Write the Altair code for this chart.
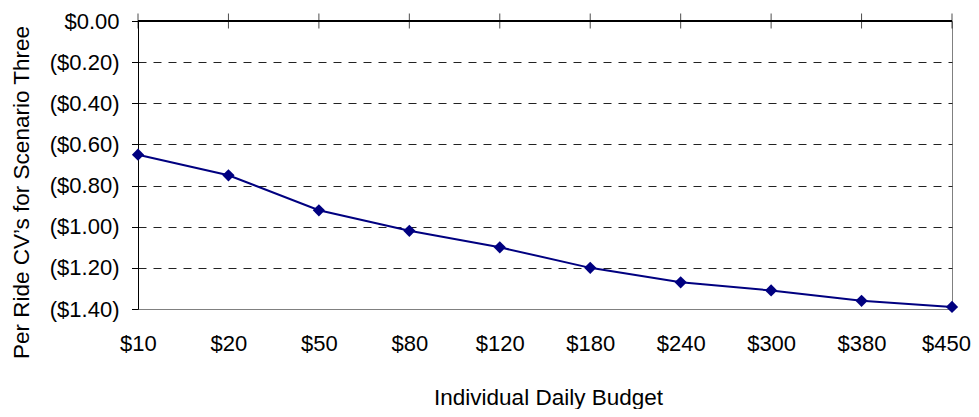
import altair as alt
import pandas as pd

budget = ["$10", "$20", "$50", "$80", "$120", "$180", "$240", "$300", "$380", "$450"]
cv = [-0.65, -0.75, -0.92, -1.02, -1.10, -1.20, -1.27, -1.31, -1.36, -1.39]
y_ticks = [0.0, -0.2, -0.4, -0.6, -0.8, -1.0, -1.2, -1.4]

df = pd.DataFrame({"budget": budget, "cv": cv})

FONT = "Liberation Sans"
NAVY = "#000080"

x_enc = alt.X(
    "budget:N",
    sort=budget,
    scale=alt.Scale(type="point", padding=0),
    axis=alt.Axis(
        orient="bottom",
        domain=False,
        ticks=False,
        grid=False,
        labelPadding=24,
        labelFont=FONT,
        labelFontSize=22,
        labelColor="black",
        labelAngle=0,
        labelFlush=True,
        labelFlushOffset=18.5,
        title="Individual Daily Budget",
        titleFont=FONT,
        titleFontSize=22.5,
        titleFontWeight="normal",
        titleColor="black",
        titleBaseline="alphabetic",
        titleX=410,
        titleY=95,
    ),
)

y_enc = alt.Y(
    "cv:Q",
    scale=alt.Scale(domain=[-1.4, 0], nice=False, zero=False),
    axis=alt.Axis(
        values=y_ticks,
        labelExpr="datum.value < -0.0001 ? '(' + format(-datum.value, '$.2f') + ')' : format(0, '$.2f') + '\u00a0'",
        domain=True,
        domainColor="black",
        ticks=True,
        tickColor="black",
        tickSize=6.5,
        labelPadding=12.5,
        labelFont=FONT,
        labelFontSize=22,
        labelColor="black",
        grid=True,
        gridColor="#222222",
        gridDash=[8, 7],
        gridOpacity={"condition": {"test": "datum.value < -1.39 || datum.value > -0.01", "value": 0}, "value": 1},
        title="Per Ride CV\u2019s for Scenario Three",
        titleFont=FONT,
        titleFontSize=22.5,
        titleFontWeight="normal",
        titleColor="black",
        titleAngle=270,
        titleBaseline="alphabetic",
        titleAlign="center",
        titleX=-110,
        titleY=171,
    ),
)

base = alt.Chart(df)

top_line = base.mark_rule(color="black", strokeWidth=1).encode(y=alt.datum(0))

top_ticks = base.mark_tick(orient="vertical", size=15, thickness=1, color="black").encode(
    x=x_enc, y=alt.datum(0)
)

line = base.mark_line(color=NAVY, strokeWidth=2).encode(x=x_enc, y=y_enc)

points = base.mark_point(shape="diamond", filled=True, size=150, color=NAVY, opacity=1).encode(
    x=x_enc, y=y_enc
)

chart = (
    alt.layer(line, top_line, top_ticks, points)
    .properties(
        width=814,
        height=288,
        autosize="none",
        padding={"left": 130, "top": 13, "right": 19, "bottom": 100},
        background="white",
    )
    .configure_view(stroke="#808080", strokeWidth=1)
)

chart.save("out.html", embed_options={"renderer": "svg", "actions": False})
